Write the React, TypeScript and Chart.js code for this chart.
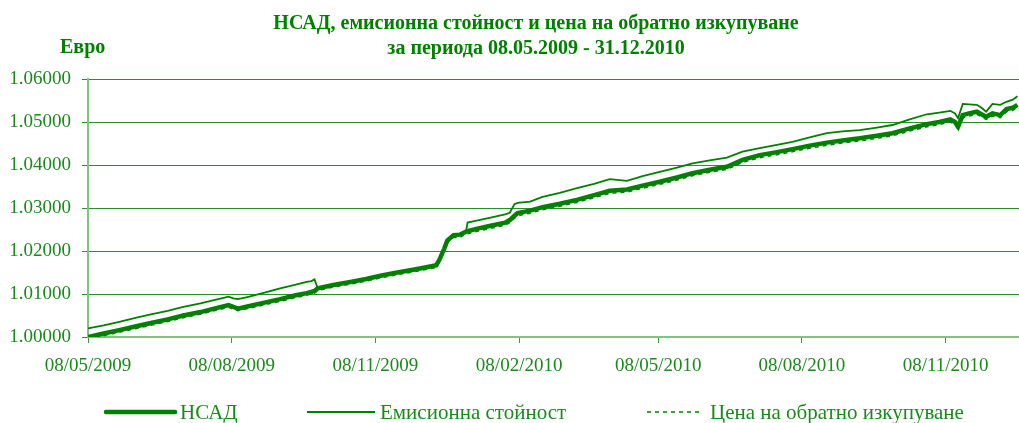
import { useEffect, useRef } from "react";
import { Chart, registerables } from "chart.js";
Chart.register(...registerables);

// days since 08/05/2009
const days = [0,10,20,31,41,51,61,72,82,90,93,96,102,113,123,133,140,143,145,147,157,168,178,188,198,209,219,223,225,228,230,234,238,242,243,248,257,267,270,273,275,283,291,302,313,324,334,345,355,366,377,387,398,409,419,430,441,451,462,473,483,494,505,515,526,537,545,552,555,557,560,564,569,572,575,579,584,588,592,595];

const nav = [1.0000,1.0008,1.0016,1.0025,1.0033,1.0041,1.0050,1.0058,1.0067,1.0074,
  1.0070,1.0066,1.0071,1.0080,1.0088,1.0097,1.0102,1.0105,1.0107,1.0113,
  1.0121,1.0128,1.0135,1.0143,1.0150,1.0157,1.0164,1.0167,1.0180,1.0205,
  1.0224,1.0237,1.0238,1.0245,1.0246,1.0251,1.0258,1.0266,1.0272,1.0282,
  1.0288,1.0294,1.0302,1.0310,1.0319,1.0330,1.0340,1.0343,1.0352,1.0361,
  1.0371,1.0381,1.0389,1.0396,1.0412,1.0423,1.0430,1.0437,1.0445,1.0452,
  1.0457,1.0462,1.0468,1.0474,1.0485,1.0495,1.0500,1.0506,1.0500,1.0489,
  1.0516,1.0520,1.0524,1.0518,1.0512,1.0520,1.0516,1.0530,1.0533,1.0540];

const issue = [1.0020,1.0027,1.0035,1.0045,1.0053,1.0061,1.0070,1.0078,1.0087,1.0094,
  1.0090,1.0088,1.0093,1.0103,1.0113,1.0122,1.0128,1.0130,1.0134,1.0114,
  1.0122,1.0129,1.0136,1.0144,1.0151,1.0158,1.0165,1.0168,1.0181,1.0206,
  1.0225,1.0238,1.0239,1.0246,1.0266,1.0270,1.0277,1.0285,1.0289,1.0309,
  1.0312,1.0315,1.0326,1.0335,1.0346,1.0356,1.0367,1.0363,1.0374,1.0384,
  1.0394,1.0404,1.0411,1.0417,1.0431,1.0439,1.0447,1.0454,1.0464,1.0474,
  1.0478,1.0481,1.0487,1.0493,1.0506,1.0518,1.0522,1.0526,1.0520,1.0509,
  1.0542,1.0541,1.0540,1.0533,1.0524,1.0542,1.0540,1.0547,1.0552,1.0560];

const redemption = [0.9996,1.0003,1.0011,1.0020,1.0028,1.0036,1.0045,1.0053,1.0062,1.0069,
  1.0065,1.0061,1.0066,1.0075,1.0083,1.0092,1.0097,1.0100,1.0102,1.0108,
  1.0116,1.0123,1.0130,1.0138,1.0145,1.0152,1.0159,1.0162,1.0175,1.0200,
  1.0219,1.0232,1.0231,1.0240,1.0240,1.0245,1.0252,1.0260,1.0266,1.0276,
  1.0282,1.0288,1.0296,1.0304,1.0313,1.0324,1.0334,1.0337,1.0346,1.0355,
  1.0365,1.0375,1.0383,1.0390,1.0406,1.0417,1.0424,1.0431,1.0439,1.0446,
  1.0451,1.0456,1.0462,1.0468,1.0479,1.0489,1.0494,1.0500,1.0494,1.0483,
  1.0510,1.0514,1.0518,1.0512,1.0506,1.0514,1.0510,1.0524,1.0527,1.0534];

const xTickDays = [0, 92, 184, 276, 365, 457, 549];
const xTickLabels = ["08/05/2009", "08/08/2009", "08/11/2009", "08/02/2010", "08/05/2010", "08/08/2010", "08/11/2010"];
const seriesNames = ["НСАД", "Емисионна стойност", "Цена на обратно изкупуване"];
const titleLines = ["НСАД, емисионна стойност и цена на обратно изкупуване", "за периода 08.05.2009 - 31.12.2010"];
const yAxisTitle = "Евро";

const GREEN = "#008000";
const TEXT_GREEN = "#1a8a1a";
const FONT = '"Liberation Serif", "Times New Roman", serif';

const legendPos = [
  { x1: 106, x2: 175, tx: 180 },
  { x1: 307, x2: 375, tx: 380 },
  { x1: 647, x2: 700, tx: 710 },
];

const overlay = {
  id: "overlay",
  afterDraw(chart: any) {
    const ctx = chart.ctx;
    ctx.save();
    ctx.fillStyle = GREEN;
    ctx.font = `bold 20px ${FONT}`;
    ctx.textAlign = "center";
    ctx.textBaseline = "alphabetic";
    ctx.fillText(titleLines[0], 536, 29);
    ctx.fillText(titleLines[1], 536, 54);
    ctx.textAlign = "left";
    ctx.fillText(yAxisTitle, 60, 53);

    ctx.font = `21px ${FONT}`;
    ctx.textBaseline = "middle";
    chart.data.datasets.forEach((ds: any, i: number) => {
      const p = legendPos[i];
      const y = 412;
      ctx.save();
      ctx.strokeStyle = ds.borderColor;
      ctx.lineWidth = ds.borderWidth;
      ctx.lineCap = i === 0 ? "round" : "butt";
      ctx.setLineDash(ds.borderDash || []);
      ctx.beginPath();
      ctx.moveTo(p.x1, y);
      ctx.lineTo(p.x2, y);
      ctx.stroke();
      ctx.restore();
      ctx.fillStyle = TEXT_GREEN;
      ctx.fillText(ds.label, p.tx, y + 1);
    });
    ctx.restore();
  },
};

export default function App() {
  const ref = useRef<HTMLCanvasElement>(null);
  useEffect(() => {
    const toPts = (vals: number[]) => days.map((d, i) => ({ x: d, y: vals[i] }));
    const chart = new Chart(ref.current!, {
      type: "line",
      data: {
        datasets: [
          { label: seriesNames[0], data: toPts(nav), borderColor: GREEN, borderWidth: 4.5, pointRadius: 0, tension: 0 },
          { label: seriesNames[1], data: toPts(issue), borderColor: GREEN, borderWidth: 1.8, pointRadius: 0, tension: 0 },
          { label: seriesNames[2], data: toPts(redemption), borderColor: GREEN, borderWidth: 1.5, borderDash: [4, 4], pointRadius: 0, tension: 0 },
        ],
      },
      options: {
        animation: false,
        responsive: true,
        maintainAspectRatio: false,
        layout: { padding: { top: 79, left: 0, right: 0, bottom: 0 } },
        plugins: { legend: { display: false }, title: { display: false }, tooltip: { enabled: false } },
        scales: {
          x: {
            type: "linear",
            min: 0,
            max: 596,
            afterBuildTicks: (s: any) => { s.ticks = xTickDays.map((v) => ({ value: v })); },
            afterFit: (s: any) => { s.height = 86; },
            ticks: {
              autoSkip: false,
              maxRotation: 0,
              padding: 12,
              color: TEXT_GREEN,
              font: { family: FONT, size: 19 },
              callback: (v: any) => { const i = xTickDays.indexOf(Number(v)); return i >= 0 ? xTickLabels[i] : ""; },
            },
            grid: { drawOnChartArea: false, drawTicks: true, tickLength: 6, color: "#3a9a3a" },
            border: { color: "#80c480", width: 2 },
          },
          y: {
            min: 1.0,
            max: 1.06,
            afterFit: (s: any) => { s.width = 88; },
            ticks: {
              stepSize: 0.01,
              padding: 11,
              color: TEXT_GREEN,
              font: { family: FONT, size: 19 },
              callback: (v: any) => Number(v).toFixed(5),
            },
            grid: { color: "#2a8f2a", lineWidth: 1, tickLength: 6 },
            border: { color: "#80c480", width: 2 },
          },
        },
      },
      plugins: [overlay],
    });
    return () => chart.destroy();
  }, []);
  return (
    <div style={{ position: "absolute", left: 0, top: 0, width: 1019, height: 423, background: "#fff" }}>
      <canvas ref={ref} />
    </div>
  );
}
